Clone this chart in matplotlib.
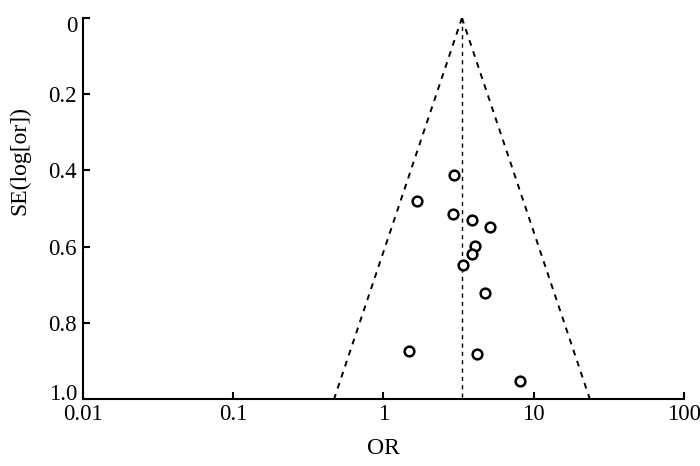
import numpy as np
import matplotlib.pyplot as plt
import matplotlib.transforms as mtransforms

plt.rcParams['font.family'] = ['Liberation Serif', 'DejaVu Serif']

# 数据
odds_ratio = [2.94, 1.68, 2.90, 3.86, 5.12, 4.06, 3.86, 3.36, 4.71, 1.47, 4.17, 8.17]
se_log_or = [0.412, 0.480, 0.514, 0.529, 0.549, 0.598, 0.620, 0.649, 0.723, 0.873, 0.881, 0.952]
pooled_or = 3.33
se_max = 1.0

x_ticks = [0.01, 0.1, 1, 10, 100]
x_tick_labels = ['0.01', '0.1', '1', '10', '100']
y_ticks = [0, 0.2, 0.4, 0.6, 0.8, 1.0]
y_tick_labels = ['0', '0.2', '0.4', '0.6', '0.8', '1.0']

fig = plt.figure(figsize=(7, 4.66), dpi=100)
ax = fig.add_axes([0.1186, 0.1438, 0.8584, 0.8176])

# 漏斗线（95% 置信界限）
se_line = np.array([0, se_max])
lo = np.exp(np.log(pooled_or) - 1.96 * se_line)
hi = np.exp(np.log(pooled_or) + 1.96 * se_line)
ax.plot(lo, se_line, color='k', ls=(0, (3, 3)), lw=1.4)
ax.plot(hi, se_line, color='k', ls=(0, (3, 3)), lw=1.4)
ax.plot([pooled_or, pooled_or], se_line, color='k', ls=(0, (3, 3)), lw=1.0)

ax.plot(odds_ratio, se_log_or, 'o', ms=7, mfc='white', mec='k', mew=1.8)

ax.set_xscale('log')
ax.set_xlim(0.01, 100)
ax.set_ylim(1.0, 0)
ax.set_xticks(x_ticks)
ax.set_xticklabels(x_tick_labels)
ax.minorticks_off()
ax.set_yticks(y_ticks)
ax.set_yticklabels(y_tick_labels)

ax.spines['top'].set_visible(False)
ax.spines['right'].set_visible(False)
ax.spines['left'].set_linewidth(1.5)
ax.spines['bottom'].set_linewidth(1.5)
ax.tick_params(direction='in', length=5, width=1.5, labelsize=16.5)
ax.tick_params(axis='x', pad=3.5)
ax.tick_params(axis='y', pad=4.3)

# 首尾两个 y 刻度标签稍微向内移动（与原图一致）
ylabels = ax.get_yticklabels()
ylabels[0].set_transform(ylabels[0].get_transform() +
                         mtransforms.ScaledTranslation(0, -4 / 72, fig.dpi_scale_trans))
ylabels[-1].set_transform(ylabels[-1].get_transform() +
                          mtransforms.ScaledTranslation(0, 5 / 72, fig.dpi_scale_trans))

ax.set_xlabel('OR', fontsize=17)
ax.set_ylabel('SE(log[or])', fontsize=17)
ax.xaxis.label.set_va('center')
ax.yaxis.label.set_va('center')
ax.xaxis.set_label_coords(0.5, -0.129)
ax.yaxis.set_label_coords(-0.105, 0.627)

fig.savefig('out.png', dpi=100)
